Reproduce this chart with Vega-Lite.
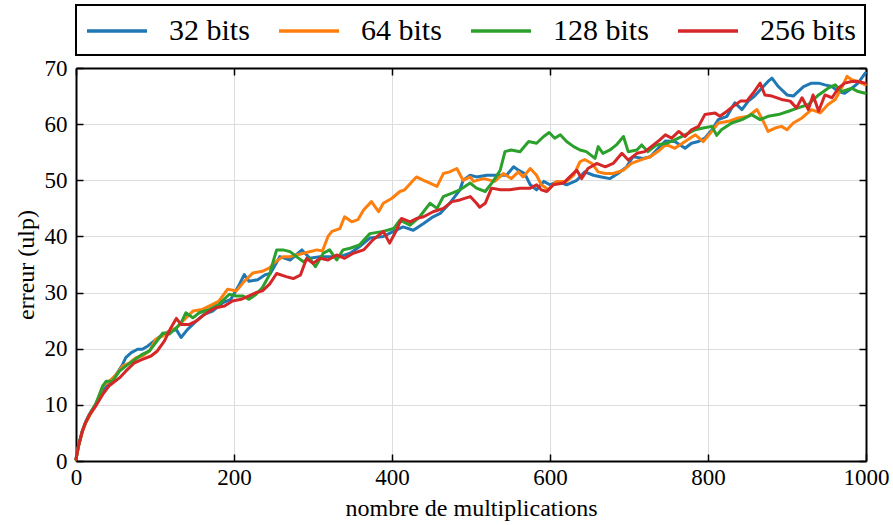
{
"$schema":"https://vega.github.io/schema/vega-lite/v6.json",
"width":790,"height":393,
"autosize":{"type":"none"},
"padding":{"left":76,"top":68,"right":27,"bottom":64},
"background":"white",
"data":{"values":[
{"s":"32 bits","x":0,"y":0.3},{"s":"32 bits","x":3,"y":2.6},{"s":"32 bits","x":8,"y":5.3},{"s":"32 bits","x":12,"y":6.8},{"s":"32 bits","x":17,"y":8.3},{"s":"32 bits","x":25,"y":10.1},{"s":"32 bits","x":34,"y":12.5},{"s":"32 bits","x":42,"y":13.9},{"s":"32 bits","x":51,"y":15.4},{"s":"32 bits","x":59,"y":17.2},{"s":"32 bits","x":63,"y":18.4},{"s":"32 bits","x":70,"y":19.3},{"s":"32 bits","x":78,"y":19.9},{"s":"32 bits","x":84,"y":19.9},{"s":"32 bits","x":91,"y":20.5},{"s":"32 bits","x":99,"y":21.4},{"s":"32 bits","x":110,"y":22.6},{"s":"32 bits","x":118,"y":23.1},{"s":"32 bits","x":127,"y":23.4},{"s":"32 bits","x":133,"y":22},{"s":"32 bits","x":141,"y":23.4},{"s":"32 bits","x":152,"y":24.9},{"s":"32 bits","x":162,"y":26.1},{"s":"32 bits","x":173,"y":26.7},{"s":"32 bits","x":186,"y":28.2},{"s":"32 bits","x":196,"y":28.8},{"s":"32 bits","x":207,"y":31.5},{"s":"32 bits","x":213,"y":33.2},{"s":"32 bits","x":219,"y":32},{"s":"32 bits","x":230,"y":32.3},{"s":"32 bits","x":240,"y":33.2},{"s":"32 bits","x":246,"y":33.4},{"s":"32 bits","x":258,"y":36.4},{"s":"32 bits","x":271,"y":35.8},{"s":"32 bits","x":286,"y":37.6},{"s":"32 bits","x":296,"y":36.1},{"s":"32 bits","x":309,"y":36.4},{"s":"32 bits","x":321,"y":36.4},{"s":"32 bits","x":334,"y":36.4},{"s":"32 bits","x":347,"y":37},{"s":"32 bits","x":359,"y":38.2},{"s":"32 bits","x":372,"y":39.7},{"s":"32 bits","x":389,"y":40},{"s":"32 bits","x":402,"y":40.9},{"s":"32 bits","x":414,"y":41.7},{"s":"32 bits","x":427,"y":41.1},{"s":"32 bits","x":440,"y":42.3},{"s":"32 bits","x":452,"y":43.5},{"s":"32 bits","x":461,"y":44.1},{"s":"32 bits","x":473,"y":45.9},{"s":"32 bits","x":486,"y":48.3},{"s":"32 bits","x":490,"y":50},{"s":"32 bits","x":499,"y":50.9},{"s":"32 bits","x":507,"y":50.6},{"s":"32 bits","x":520,"y":50.9},{"s":"32 bits","x":532,"y":50.9},{"s":"32 bits","x":545,"y":50.9},{"s":"32 bits","x":554,"y":52.4},{"s":"32 bits","x":560,"y":51.8},{"s":"32 bits","x":568,"y":51.2},{"s":"32 bits","x":575,"y":49.2},{"s":"32 bits","x":583,"y":48.3},{"s":"32 bits","x":592,"y":49.8},{"s":"32 bits","x":600,"y":49.2},{"s":"32 bits","x":610,"y":49.8},{"s":"32 bits","x":621,"y":49.2},{"s":"32 bits","x":634,"y":50},{"s":"32 bits","x":644,"y":51.5},{"s":"32 bits","x":655,"y":50.9},{"s":"32 bits","x":665,"y":50.6},{"s":"32 bits","x":676,"y":50.3},{"s":"32 bits","x":686,"y":51.2},{"s":"32 bits","x":697,"y":52.4},{"s":"32 bits","x":705,"y":54.2},{"s":"32 bits","x":718,"y":53.9},{"s":"32 bits","x":727,"y":54.2},{"s":"32 bits","x":737,"y":55.7},{"s":"32 bits","x":746,"y":57},{"s":"32 bits","x":758,"y":56.9},{"s":"32 bits","x":771,"y":55.7},{"s":"32 bits","x":779,"y":56.6},{"s":"32 bits","x":788,"y":56.9},{"s":"32 bits","x":796,"y":57.5},{"s":"32 bits","x":805,"y":59},{"s":"32 bits","x":813,"y":60.8},{"s":"32 bits","x":824,"y":61.4},{"s":"32 bits","x":834,"y":63.8},{"s":"32 bits","x":843,"y":62.6},{"s":"32 bits","x":851,"y":64.1},{"s":"32 bits","x":859,"y":65},{"s":"32 bits","x":868,"y":66.4},{"s":"32 bits","x":876,"y":67.6},{"s":"32 bits","x":881,"y":68.2},{"s":"32 bits","x":889,"y":66.7},{"s":"32 bits","x":900,"y":65.2},{"s":"32 bits","x":908,"y":65},{"s":"32 bits","x":914,"y":65.8},{"s":"32 bits","x":921,"y":66.7},{"s":"32 bits","x":931,"y":67.3},{"s":"32 bits","x":940,"y":67.3},{"s":"32 bits","x":948,"y":67},{"s":"32 bits","x":957,"y":66.7},{"s":"32 bits","x":965,"y":65.8},{"s":"32 bits","x":973,"y":65.5},{"s":"32 bits","x":982,"y":66.4},{"s":"32 bits","x":990,"y":67.3},{"s":"32 bits","x":999,"y":69.1},
{"s":"64 bits","x":0,"y":0.3},{"s":"64 bits","x":3,"y":2.5},{"s":"64 bits","x":8,"y":5.2},{"s":"64 bits","x":12,"y":6.7},{"s":"64 bits","x":17,"y":8},{"s":"64 bits","x":25,"y":9.9},{"s":"64 bits","x":34,"y":13.4},{"s":"64 bits","x":42,"y":14.2},{"s":"64 bits","x":51,"y":15.4},{"s":"64 bits","x":59,"y":16.9},{"s":"64 bits","x":68,"y":17.5},{"s":"64 bits","x":76,"y":18.4},{"s":"64 bits","x":84,"y":18.7},{"s":"64 bits","x":93,"y":19.6},{"s":"64 bits","x":101,"y":21.7},{"s":"64 bits","x":110,"y":22.3},{"s":"64 bits","x":118,"y":23.1},{"s":"64 bits","x":127,"y":23.7},{"s":"64 bits","x":135,"y":24.9},{"s":"64 bits","x":148,"y":26.7},{"s":"64 bits","x":160,"y":27},{"s":"64 bits","x":173,"y":27.9},{"s":"64 bits","x":181,"y":28.5},{"s":"64 bits","x":192,"y":30.6},{"s":"64 bits","x":203,"y":30.3},{"s":"64 bits","x":213,"y":32},{"s":"64 bits","x":224,"y":33.5},{"s":"64 bits","x":236,"y":33.8},{"s":"64 bits","x":245,"y":34.4},{"s":"64 bits","x":250,"y":35.2},{"s":"64 bits","x":262,"y":36.4},{"s":"64 bits","x":271,"y":36.4},{"s":"64 bits","x":288,"y":37},{"s":"64 bits","x":305,"y":37.6},{"s":"64 bits","x":312,"y":37.4},{"s":"64 bits","x":319,"y":40},{"s":"64 bits","x":324,"y":40.9},{"s":"64 bits","x":334,"y":41.4},{"s":"64 bits","x":340,"y":43.5},{"s":"64 bits","x":349,"y":42.6},{"s":"64 bits","x":357,"y":43},{"s":"64 bits","x":364,"y":44.7},{"s":"64 bits","x":374,"y":46.2},{"s":"64 bits","x":383,"y":44.4},{"s":"64 bits","x":389,"y":45.9},{"s":"64 bits","x":400,"y":46.8},{"s":"64 bits","x":410,"y":48},{"s":"64 bits","x":416,"y":48.3},{"s":"64 bits","x":427,"y":50},{"s":"64 bits","x":431,"y":50.6},{"s":"64 bits","x":440,"y":50},{"s":"64 bits","x":448,"y":49.5},{"s":"64 bits","x":457,"y":48.9},{"s":"64 bits","x":465,"y":51.2},{"s":"64 bits","x":473,"y":51.5},{"s":"64 bits","x":482,"y":52.1},{"s":"64 bits","x":490,"y":50},{"s":"64 bits","x":499,"y":50.6},{"s":"64 bits","x":503,"y":49.8},{"s":"64 bits","x":516,"y":50.3},{"s":"64 bits","x":530,"y":49.8},{"s":"64 bits","x":541,"y":51.2},{"s":"64 bits","x":551,"y":50.3},{"s":"64 bits","x":560,"y":51.5},{"s":"64 bits","x":566,"y":50.6},{"s":"64 bits","x":575,"y":52.1},{"s":"64 bits","x":583,"y":50.9},{"s":"64 bits","x":589,"y":49.2},{"s":"64 bits","x":598,"y":48.3},{"s":"64 bits","x":608,"y":49.8},{"s":"64 bits","x":621,"y":49.8},{"s":"64 bits","x":630,"y":50.9},{"s":"64 bits","x":638,"y":53.3},{"s":"64 bits","x":644,"y":53.7},{"s":"64 bits","x":653,"y":53},{"s":"64 bits","x":661,"y":51.5},{"s":"64 bits","x":670,"y":51.2},{"s":"64 bits","x":680,"y":51.2},{"s":"64 bits","x":693,"y":51.8},{"s":"64 bits","x":703,"y":53},{"s":"64 bits","x":714,"y":53.6},{"s":"64 bits","x":727,"y":54.2},{"s":"64 bits","x":739,"y":55.4},{"s":"64 bits","x":747,"y":56.4},{"s":"64 bits","x":758,"y":55.7},{"s":"64 bits","x":771,"y":56.9},{"s":"64 bits","x":784,"y":58.1},{"s":"64 bits","x":794,"y":56.9},{"s":"64 bits","x":803,"y":58.4},{"s":"64 bits","x":813,"y":60.2},{"s":"64 bits","x":826,"y":60.5},{"s":"64 bits","x":838,"y":61.1},{"s":"64 bits","x":851,"y":61.4},{"s":"64 bits","x":862,"y":62.6},{"s":"64 bits","x":870,"y":60.5},{"s":"64 bits","x":876,"y":58.7},{"s":"64 bits","x":885,"y":59.3},{"s":"64 bits","x":893,"y":59.6},{"s":"64 bits","x":900,"y":59},{"s":"64 bits","x":908,"y":60.2},{"s":"64 bits","x":919,"y":61.1},{"s":"64 bits","x":931,"y":62.6},{"s":"64 bits","x":942,"y":62},{"s":"64 bits","x":952,"y":63.5},{"s":"64 bits","x":961,"y":64.4},{"s":"64 bits","x":969,"y":66.4},{"s":"64 bits","x":976,"y":68.5},{"s":"64 bits","x":982,"y":67.9},{"s":"64 bits","x":990,"y":67.6},{"s":"64 bits","x":999,"y":67},
{"s":"128 bits","x":0,"y":0.3},{"s":"128 bits","x":3,"y":2.6},{"s":"128 bits","x":8,"y":5.4},{"s":"128 bits","x":12,"y":6.9},{"s":"128 bits","x":17,"y":8.3},{"s":"128 bits","x":25,"y":10.2},{"s":"128 bits","x":34,"y":13.4},{"s":"128 bits","x":38,"y":14.2},{"s":"128 bits","x":46,"y":14.2},{"s":"128 bits","x":55,"y":16},{"s":"128 bits","x":63,"y":16.9},{"s":"128 bits","x":72,"y":17.8},{"s":"128 bits","x":84,"y":19},{"s":"128 bits","x":93,"y":19.6},{"s":"128 bits","x":101,"y":21.1},{"s":"128 bits","x":110,"y":22.8},{"s":"128 bits","x":118,"y":22.6},{"s":"128 bits","x":127,"y":23.7},{"s":"128 bits","x":133,"y":24.6},{"s":"128 bits","x":139,"y":26.4},{"s":"128 bits","x":148,"y":25.5},{"s":"128 bits","x":156,"y":26.4},{"s":"128 bits","x":169,"y":27},{"s":"128 bits","x":181,"y":27.9},{"s":"128 bits","x":194,"y":29.7},{"s":"128 bits","x":203,"y":29.4},{"s":"128 bits","x":211,"y":29.4},{"s":"128 bits","x":219,"y":28.8},{"s":"128 bits","x":228,"y":29.7},{"s":"128 bits","x":236,"y":30.9},{"s":"128 bits","x":245,"y":33.2},{"s":"128 bits","x":251,"y":36.2},{"s":"128 bits","x":254,"y":37.6},{"s":"128 bits","x":262,"y":37.6},{"s":"128 bits","x":271,"y":37.3},{"s":"128 bits","x":279,"y":36.4},{"s":"128 bits","x":288,"y":35.5},{"s":"128 bits","x":296,"y":36.1},{"s":"128 bits","x":303,"y":34.6},{"s":"128 bits","x":313,"y":37},{"s":"128 bits","x":321,"y":37.6},{"s":"128 bits","x":330,"y":35.8},{"s":"128 bits","x":338,"y":37.6},{"s":"128 bits","x":347,"y":37.9},{"s":"128 bits","x":359,"y":38.5},{"s":"128 bits","x":372,"y":40.5},{"s":"128 bits","x":389,"y":40.9},{"s":"128 bits","x":402,"y":41.4},{"s":"128 bits","x":410,"y":42.9},{"s":"128 bits","x":423,"y":42},{"s":"128 bits","x":435,"y":43.5},{"s":"128 bits","x":448,"y":45.9},{"s":"128 bits","x":457,"y":45},{"s":"128 bits","x":465,"y":47.1},{"s":"128 bits","x":476,"y":47.7},{"s":"128 bits","x":486,"y":48.3},{"s":"128 bits","x":499,"y":49.5},{"s":"128 bits","x":507,"y":48.6},{"s":"128 bits","x":518,"y":48},{"s":"128 bits","x":528,"y":49.8},{"s":"128 bits","x":537,"y":51.8},{"s":"128 bits","x":543,"y":55.1},{"s":"128 bits","x":551,"y":55.4},{"s":"128 bits","x":562,"y":55.1},{"s":"128 bits","x":573,"y":56.9},{"s":"128 bits","x":583,"y":56.6},{"s":"128 bits","x":592,"y":57.8},{"s":"128 bits","x":599,"y":58.5},{"s":"128 bits","x":606,"y":57.5},{"s":"128 bits","x":613,"y":58.1},{"s":"128 bits","x":621,"y":56.9},{"s":"128 bits","x":630,"y":56},{"s":"128 bits","x":638,"y":55.4},{"s":"128 bits","x":646,"y":55.1},{"s":"128 bits","x":657,"y":53.9},{"s":"128 bits","x":661,"y":56},{"s":"128 bits","x":667,"y":54.8},{"s":"128 bits","x":676,"y":55.4},{"s":"128 bits","x":684,"y":56.3},{"s":"128 bits","x":693,"y":57.8},{"s":"128 bits","x":699,"y":55.1},{"s":"128 bits","x":710,"y":55.4},{"s":"128 bits","x":716,"y":56.3},{"s":"128 bits","x":724,"y":55.1},{"s":"128 bits","x":735,"y":56.3},{"s":"128 bits","x":748,"y":56.6},{"s":"128 bits","x":758,"y":57.2},{"s":"128 bits","x":771,"y":58.1},{"s":"128 bits","x":784,"y":59},{"s":"128 bits","x":794,"y":59.3},{"s":"128 bits","x":805,"y":59.6},{"s":"128 bits","x":811,"y":58},{"s":"128 bits","x":817,"y":59},{"s":"128 bits","x":830,"y":60.2},{"s":"128 bits","x":843,"y":60.8},{"s":"128 bits","x":855,"y":61.7},{"s":"128 bits","x":866,"y":60.8},{"s":"128 bits","x":876,"y":61.4},{"s":"128 bits","x":889,"y":61.7},{"s":"128 bits","x":902,"y":62.3},{"s":"128 bits","x":914,"y":62.9},{"s":"128 bits","x":927,"y":63.5},{"s":"128 bits","x":940,"y":65.2},{"s":"128 bits","x":952,"y":66.4},{"s":"128 bits","x":961,"y":67},{"s":"128 bits","x":969,"y":65.8},{"s":"128 bits","x":982,"y":66.4},{"s":"128 bits","x":990,"y":65.8},{"s":"128 bits","x":999,"y":65.5},
{"s":"256 bits","x":0,"y":0.3},{"s":"256 bits","x":3,"y":2.6},{"s":"256 bits","x":8,"y":5.3},{"s":"256 bits","x":12,"y":6.8},{"s":"256 bits","x":17,"y":8.2},{"s":"256 bits","x":25,"y":9.8},{"s":"256 bits","x":34,"y":11.9},{"s":"256 bits","x":42,"y":13.4},{"s":"256 bits","x":55,"y":14.8},{"s":"256 bits","x":63,"y":16},{"s":"256 bits","x":74,"y":17.5},{"s":"256 bits","x":84,"y":18.1},{"s":"256 bits","x":95,"y":18.7},{"s":"256 bits","x":103,"y":19.6},{"s":"256 bits","x":112,"y":21.4},{"s":"256 bits","x":120,"y":23.7},{"s":"256 bits","x":127,"y":25.4},{"s":"256 bits","x":133,"y":24.3},{"s":"256 bits","x":143,"y":24.3},{"s":"256 bits","x":152,"y":24.9},{"s":"256 bits","x":160,"y":25.8},{"s":"256 bits","x":169,"y":26.7},{"s":"256 bits","x":177,"y":27.3},{"s":"256 bits","x":188,"y":27.6},{"s":"256 bits","x":198,"y":28.5},{"s":"256 bits","x":209,"y":28.8},{"s":"256 bits","x":219,"y":29.4},{"s":"256 bits","x":228,"y":30},{"s":"256 bits","x":236,"y":30.3},{"s":"256 bits","x":245,"y":31.5},{"s":"256 bits","x":254,"y":33.4},{"s":"256 bits","x":267,"y":32.8},{"s":"256 bits","x":275,"y":32.5},{"s":"256 bits","x":284,"y":33.1},{"s":"256 bits","x":292,"y":36.1},{"s":"256 bits","x":300,"y":35.2},{"s":"256 bits","x":309,"y":36.1},{"s":"256 bits","x":319,"y":35.8},{"s":"256 bits","x":330,"y":36.7},{"s":"256 bits","x":340,"y":36.1},{"s":"256 bits","x":351,"y":37},{"s":"256 bits","x":364,"y":37.6},{"s":"256 bits","x":376,"y":39.4},{"s":"256 bits","x":389,"y":40.9},{"s":"256 bits","x":397,"y":38.8},{"s":"256 bits","x":406,"y":41.2},{"s":"256 bits","x":412,"y":43.2},{"s":"256 bits","x":423,"y":42.6},{"s":"256 bits","x":431,"y":43.2},{"s":"256 bits","x":440,"y":43.5},{"s":"256 bits","x":452,"y":44.4},{"s":"256 bits","x":465,"y":45},{"s":"256 bits","x":476,"y":46.2},{"s":"256 bits","x":486,"y":46.5},{"s":"256 bits","x":499,"y":47.1},{"s":"256 bits","x":507,"y":45.9},{"s":"256 bits","x":511,"y":45.2},{"s":"256 bits","x":518,"y":45.9},{"s":"256 bits","x":526,"y":48.6},{"s":"256 bits","x":537,"y":48.3},{"s":"256 bits","x":549,"y":48.3},{"s":"256 bits","x":562,"y":48.6},{"s":"256 bits","x":575,"y":48.6},{"s":"256 bits","x":583,"y":49.2},{"s":"256 bits","x":589,"y":48.3},{"s":"256 bits","x":596,"y":48},{"s":"256 bits","x":604,"y":49.2},{"s":"256 bits","x":617,"y":49.5},{"s":"256 bits","x":625,"y":50.6},{"s":"256 bits","x":634,"y":51.8},{"s":"256 bits","x":640,"y":50.3},{"s":"256 bits","x":648,"y":52.1},{"s":"256 bits","x":659,"y":53},{"s":"256 bits","x":670,"y":52.4},{"s":"256 bits","x":680,"y":53},{"s":"256 bits","x":691,"y":54.8},{"s":"256 bits","x":699,"y":53.6},{"s":"256 bits","x":710,"y":54.8},{"s":"256 bits","x":720,"y":55.1},{"s":"256 bits","x":731,"y":56.3},{"s":"256 bits","x":739,"y":57.2},{"s":"256 bits","x":746,"y":58.1},{"s":"256 bits","x":754,"y":57.5},{"s":"256 bits","x":763,"y":58.7},{"s":"256 bits","x":771,"y":57.8},{"s":"256 bits","x":779,"y":59},{"s":"256 bits","x":788,"y":59.6},{"s":"256 bits","x":796,"y":61.7},{"s":"256 bits","x":809,"y":62},{"s":"256 bits","x":815,"y":61.4},{"s":"256 bits","x":824,"y":62.3},{"s":"256 bits","x":832,"y":63.2},{"s":"256 bits","x":841,"y":64.1},{"s":"256 bits","x":849,"y":64.1},{"s":"256 bits","x":857,"y":65.5},{"s":"256 bits","x":866,"y":67.3},{"s":"256 bits","x":872,"y":65.2},{"s":"256 bits","x":881,"y":65},{"s":"256 bits","x":893,"y":64.4},{"s":"256 bits","x":904,"y":64.1},{"s":"256 bits","x":912,"y":62.9},{"s":"256 bits","x":919,"y":64.7},{"s":"256 bits","x":927,"y":62.6},{"s":"256 bits","x":933,"y":65.2},{"s":"256 bits","x":940,"y":62.3},{"s":"256 bits","x":948,"y":65.2},{"s":"256 bits","x":957,"y":64.7},{"s":"256 bits","x":965,"y":66.4},{"s":"256 bits","x":973,"y":67.3},{"s":"256 bits","x":982,"y":67.6},{"s":"256 bits","x":990,"y":67.6},{"s":"256 bits","x":999,"y":67.3}
]},
"layer":[
{
"mark":{"type":"line","strokeWidth":3,"strokeJoin":"round","strokeCap":"round"},
"encoding":{
"x":{"field":"x","type":"quantitative","scale":{"domain":[0,1000],"nice":false,"zero":false},
"axis":{"orient":"bottom","values":[0,200,400,600,800,1000],"format":"d","title":"nombre de multiplications","titleY":54,"titleBaseline":"alphabetic","labelPadding":12,"grid":true}},
"y":{"field":"y","type":"quantitative","scale":{"domain":[0,70],"nice":false},
"axis":{"orient":"left","values":[0,10,20,30,40,50,60,70],"format":"d","title":"erreur (ulp)","titleX":-43,"titleY":196.5,"titleBaseline":"alphabetic","titleAngle":270,"titleAlign":"center","labelPadding":16,"grid":true}},
"color":{"field":"s","type":"nominal","sort":["32 bits","64 bits","128 bits","256 bits"],
"scale":{"domain":["32 bits","64 bits","128 bits","256 bits"],"range":["#1f77b4","#ff7f0e","#2ca02c","#d62728"]},
"legend":{"orient":"none","legendX":0,"legendY":-63,"direction":"horizontal","title":null,
"symbolType":"M-2,0H2","symbolSize":900,"symbolStrokeWidth":3.5,"symbolOffset":15,"labelOffset":35,
"labelFontSize":30,"labelFont":"Liberation Serif","columnPadding":22,"padding":9,"strokeColor":"black",
"encode":{"legend":{"update":{"strokeWidth":{"value":2}}}}}}
}
},
{
"mark":{"type":"point","opacity":0},
"encoding":{
"x":{"field":"x","type":"quantitative","axis":{"orient":"top","values":[0,200,400,600,800,1000],"labels":false,"title":null,"grid":false}},
"y":{"field":"y","type":"quantitative","axis":{"orient":"right","values":[0,10,20,30,40,50,60,70],"labels":false,"title":null,"grid":false}}
}
}
],
"resolve":{"axis":{"x":"independent","y":"independent"}},
"config":{
"font":"Liberation Serif",
"view":{"stroke":null},
"axis":{"gridColor":"#dddddd","gridWidth":1,"domainColor":"black","domainWidth":2,"tickColor":"black","tickWidth":1.5,"tickSize":-7,
"labelFont":"Liberation Serif","titleFont":"Liberation Serif",
"labelFontSize":23,"labelColor":"black","titleFontSize":24,"titleColor":"black","titleFontWeight":"normal","labelFlush":false,"labelOverlap":false},
"legend":{"labelColor":"black","labelFont":"Liberation Serif"}
}
}
